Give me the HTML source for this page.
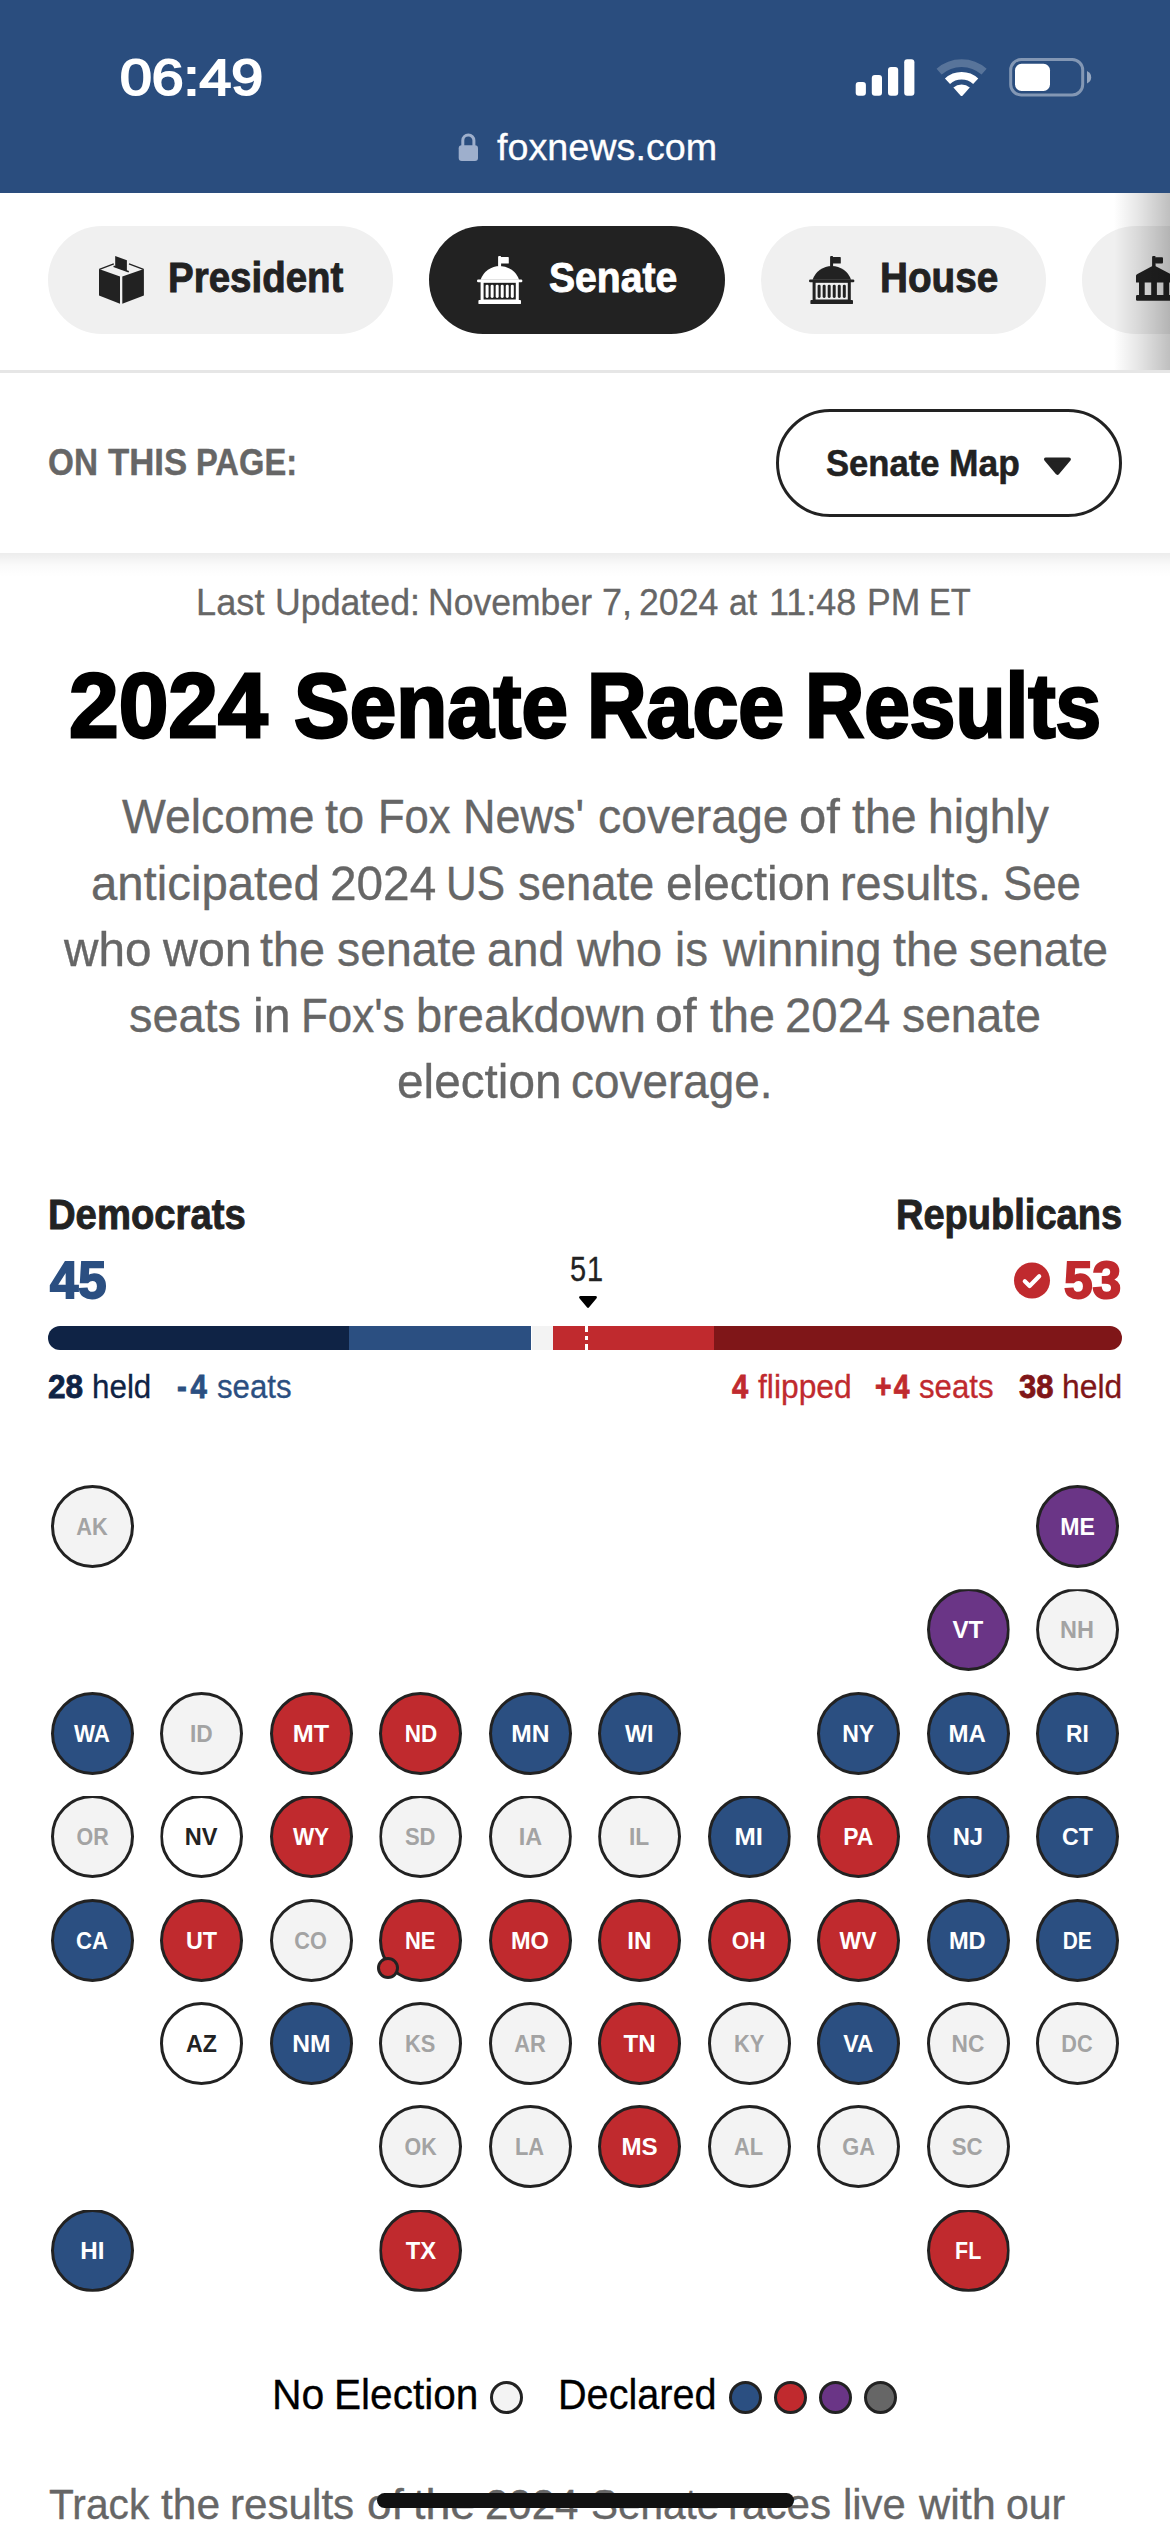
<!DOCTYPE html>
<html lang="en">
<head>
<meta charset="utf-8">
<meta name="viewport" content="width=1170, initial-scale=1">
<title>2024 Senate Race Results</title>
<style>
*{box-sizing:border-box;margin:0;padding:0}
html,body{width:1170px;height:2532px;background:#fff;overflow:hidden}
body{position:relative;font-family:"Liberation Sans",sans-serif;color:#222}
.abs,.t,.st,svg.ic{position:absolute}
.t{white-space:nowrap;line-height:1;transform-origin:0 0;display:block}
.g{position:static;font:inherit;font-size:0;line-height:0}
#hdr{left:0;top:0;width:1170px;height:193px;background:#2a4d7e}
.pill{position:absolute;top:226px;height:108px;border-radius:54px;background:#f0f0f0}
.pill.on{background:#222}
#fade{left:1114px;top:193px;width:56px;height:177px;background:linear-gradient(to right,rgba(0,0,0,0) 0%,rgba(0,0,0,.09) 40%,rgba(0,0,0,.25) 100%)}
#div1{left:0;top:370px;width:1170px;height:3px;background:#e6e6e6}
#dd{left:776px;top:409px;width:346px;height:108px;border:3px solid #222;border-radius:54px;background:#fff}
#shadow{left:0;top:553px;width:1170px;height:24px;background:linear-gradient(to bottom,rgba(0,0,0,.075),rgba(0,0,0,.02) 50%,rgba(0,0,0,0))}
#bar{left:48px;top:1326px;width:1074px;height:24px;border-radius:12px;overflow:hidden;background:#fff}
#bar i{position:absolute;top:0;height:24px}
.st{width:83px;height:83px;border:3px solid #222;border-radius:50%;display:flex;align-items:center;justify-content:center}
.st b{display:block;font-size:24.8px;line-height:1;font-weight:700;transform:scaleX(.93);position:relative;top:1px;left:-.4px}
.dot{position:absolute;width:22px;height:22px;border:3px solid #222;border-radius:50%;background:#c02a2e}
.lg{position:absolute;top:2381px;width:33px;height:33px;border:3px solid #222;border-radius:50%}
#home{left:377px;top:2493px;width:417px;height:15px;border-radius:8px;background:#111}
</style>
</head>
<body>
<div class="abs" id="hdr"></div>

<!-- status icons -->
<svg class="ic" style="left:850px;top:50px" width="250" height="56" viewBox="850 50 250 56">
  <g fill="#fff">
    <rect x="855.7" y="82" width="10.2" height="13.8" rx="3"/>
    <rect x="871.8" y="75" width="10.2" height="20.8" rx="3"/>
    <rect x="888" y="67" width="10.2" height="28.8" rx="3"/>
    <rect x="904.2" y="59.2" width="10.2" height="36.6" rx="3"/>
  </g>
  <g fill="none" stroke="#fff" stroke-width="7.6">
    <path d="M939.1 71.7 A33.7 33.7 0 0 1 984.1 71.7" opacity=".22"/>
    <path d="M947.5 81.2 A21 21 0 0 1 975.7 81.2"/>
  </g>
  <path d="M953.4 87.6 A12.4 12.4 0 0 1 969.8 87.6 L962.7 95.4 Q961.6 96.4 960.5 95.4 Z" fill="#fff"/>
  <rect x="1010.7" y="59.5" width="72" height="35.5" rx="10.5" fill="none" stroke="#fff" stroke-opacity=".42" stroke-width="3"/>
  <rect x="1015" y="63.8" width="35" height="27.2" rx="6.5" fill="#fff"/>
  <path d="M1087 71 Q1091.2 73 1091.2 77.2 Q1091.2 81.4 1087 83.4 Z" fill="#fff" fill-opacity=".5"/>
</svg>

<!-- lock -->
<svg class="ic" style="left:456px;top:130px" width="26" height="34" viewBox="456 130 26 34">
  <rect x="458.7" y="145.3" width="19.3" height="15.6" rx="3" fill="#9eafcc"/>
  <path d="M462.8 147 V140.6 A5.55 5.55 0 0 1 473.9 140.6 V147" fill="none" stroke="#9eafcc" stroke-width="3"/>
</svg>

<!-- nav pills -->
<div class="pill" style="left:48px;width:345px"></div>
<div class="pill on" style="left:429px;width:296px"></div>
<div class="pill" style="left:761px;width:285px"></div>
<div class="pill" style="left:1082px;width:300px"></div>

<!-- ballot box -->
<svg class="ic" style="left:99px;top:256px" width="45" height="48" viewBox="0 0 45 48">
  <g fill="#222">
    <path d="M0 13.1 L21 20.4 V47.8 L0 39.6 Z"/>
    <path d="M23.3 20.4 L44.9 13.1 V39.6 L23.3 47.8 Z"/>
    <path d="M16.2 0.1 L27.9 4.3 V15.3 L16.2 11 Z"/>
  </g>
  <path d="M0.4 13.3 L14.8 7.9 M30 7.9 L44.5 13.3" fill="none" stroke="#222" stroke-width="1.3"/>
  <path d="M14.6 10.2 L29.8 15.8" fill="none" stroke="#222" stroke-width="1.7"/>
</svg>

<!-- capitol (senate, white) -->
<svg class="ic" style="left:477.3px;top:256px" width="45.4" height="48.2" viewBox="0 0 45.4 48.2">
  <g fill="#fff">
    <rect x="21.1" y="0.1" width="3" height="11" rx="1"/>
    <rect x="23.6" y="1" width="8.2" height="6.6" rx=".7"/>
    <path d="M3.6 23.8 A20.3 20.3 0 0 1 42.1 23.8 Z"/>
    <rect x="0" y="23.5" width="45.4" height="2.8" rx="1.35"/>
    <path d="M3.6 26 H41.8 V44.2 H3.6 Z M6.6 26.7 V43.6 H38.8 V26.7 Z" fill-rule="evenodd"/>
    <rect x="8.6" y="28.7" width="3" height="13.3" rx="1.4"/><rect x="13.64" y="28.7" width="3" height="13.3" rx="1.4"/>
    <rect x="18.68" y="28.7" width="3" height="13.3" rx="1.4"/><rect x="23.72" y="28.7" width="3" height="13.3" rx="1.4"/>
    <rect x="28.76" y="28.7" width="3" height="13.3" rx="1.4"/><rect x="33.8" y="28.7" width="3" height="13.3" rx="1.4"/>
    <rect x="1.4" y="44" width="42.6" height="4.1" rx=".9"/>
  </g>
</svg>

<!-- capitol (house, dark) -->
<svg class="ic" style="left:809.3px;top:256px" width="45.4" height="48.2" viewBox="0 0 45.4 48.2">
  <g fill="#222">
    <rect x="21.1" y="0.1" width="3" height="11" rx="1"/>
    <rect x="23.6" y="1" width="8.2" height="6.6" rx=".7"/>
    <path d="M3.6 23.8 A20.3 20.3 0 0 1 42.1 23.8 Z"/>
    <rect x="0" y="23.5" width="45.4" height="2.8" rx="1.35"/>
    <path d="M3.6 26 H41.8 V44.2 H3.6 Z M6.6 26.7 V43.6 H38.8 V26.7 Z" fill-rule="evenodd"/>
    <rect x="8.6" y="28.7" width="3" height="13.3" rx="1.4"/><rect x="13.64" y="28.7" width="3" height="13.3" rx="1.4"/>
    <rect x="18.68" y="28.7" width="3" height="13.3" rx="1.4"/><rect x="23.72" y="28.7" width="3" height="13.3" rx="1.4"/>
    <rect x="28.76" y="28.7" width="3" height="13.3" rx="1.4"/><rect x="33.8" y="28.7" width="3" height="13.3" rx="1.4"/>
    <rect x="1.4" y="44" width="42.6" height="4.1" rx=".9"/>
  </g>
</svg>

<!-- governor building (clipped at right edge) -->
<svg class="ic" style="left:1136px;top:256px" width="34" height="46" viewBox="1136 256 34 46">
  <g fill="#222">
    <rect x="1152.1" y="256" width="3.5" height="11" rx="1"/>
    <rect x="1155" y="257.3" width="8" height="6.1" rx="1"/>
    <path d="M1153.8 265.2 L1171.6 274.7 V282.5 H1136 V275.7 Q1136 274.7 1137 274.2 Z"/>
    <rect x="1139" y="282" width="5.7" height="13.5"/>
    <rect x="1151.2" y="282" width="5.7" height="13.5"/>
    <rect x="1163.4" y="282" width="5.7" height="13.5"/>
    <rect x="1136" y="295" width="40" height="5.8" rx="1.2"/>
  </g>
</svg>

<div class="abs" id="fade"></div>
<div class="abs" id="div1"></div>

<div class="abs" id="dd"></div>
<svg class="ic" style="left:1040px;top:454px" width="36" height="26" viewBox="1040 454 36 26">
  <path d="M1045.9 459.3 H1069 L1057.45 472.9 Z" fill="#222" stroke="#222" stroke-width="3.8" stroke-linejoin="round"/>
</svg>
<div class="abs" id="shadow"></div>

<!-- 51 marker -->
<svg class="ic" style="left:576px;top:1293px" width="24" height="18" viewBox="576 1293 24 18">
  <path d="M580.5 1297.3 H595.5 L588 1306.4 Z" fill="#000" stroke="#000" stroke-width="2.8" stroke-linejoin="round"/>
</svg>

<!-- seats bar -->
<div class="abs" id="bar">
  <i style="left:0;width:301.2px;background:#0f2345"></i>
  <i style="left:301.2px;width:181.8px;background:#2b4f81"></i>
  <i style="left:484.3px;width:20.7px;background:#f3f3f3"></i>
  <i style="left:505px;width:161.1px;background:#c02a2e"></i>
  <i style="left:666.1px;width:410px;background:#7f1618"></i>
  <i style="left:537px;width:3.2px;background:linear-gradient(to bottom,#fff 0,#fff 6px,transparent 6px,transparent 9.7px,#fff 9.7px,#fff 14px,transparent 14px,transparent 18px,#fff 18px,#fff 24px)"></i>
</div>

<!-- winner check -->
<svg class="ic" style="left:1012px;top:1260px" width="40" height="40" viewBox="1012 1260 40 40">
  <circle cx="1032" cy="1280.5" r="18" fill="#c02a2e"/>
  <path d="M1024.8 1281.2 L1029.6 1286 L1039.2 1276.2" fill="none" stroke="#fff" stroke-width="4.2" stroke-linejoin="round" stroke-linecap="round"/>
</svg>

<span class="t" style="left:119.80px;top:54px;font-size:49.6px;font-weight:400;color:#fff;transform:scaleX(1.1520);-webkit-text-stroke:2.0px #fff">06:49</span>
<span class="t" style="left:497.15px;top:130px;font-size:36.8px;font-weight:400;color:#fff;transform:scaleX(1.0254);-webkit-text-stroke:0.3px #fff">foxnews.com</span>
<span class="t" style="left:168.18px;top:257px;font-size:42px;font-weight:700;color:#222222;transform:scaleX(0.9164);-webkit-text-stroke:0.9px #222222">President</span>
<span class="t" style="left:548.59px;top:257px;font-size:42px;font-weight:700;color:#fff;transform:scaleX(0.9312);-webkit-text-stroke:0.9px #fff">Senate</span>
<span class="t" style="left:879.57px;top:257px;font-size:42px;font-weight:700;color:#222222;transform:scaleX(0.9214);-webkit-text-stroke:0.9px #222222">House</span>
<div class="g"><span class="t" style="left:47.96px;top:445px;font-size:36px;font-weight:700;color:#666666;transform:scaleX(0.9241);-webkit-text-stroke:0.4px #666666">ON</span> <span class="t" style="left:107.59px;top:445px;font-size:36px;font-weight:700;color:#666666;transform:scaleX(0.9645);-webkit-text-stroke:0.4px #666666">THIS</span> <span class="t" style="left:196.37px;top:445px;font-size:36px;font-weight:700;color:#666666;transform:scaleX(0.9077);-webkit-text-stroke:0.4px #666666">PAGE:</span></div>
<div class="g"><span class="t" style="left:825.88px;top:446px;font-size:36px;font-weight:700;color:#222222;transform:scaleX(0.9620);-webkit-text-stroke:0.5px #222222">Senate</span> <span class="t" style="left:948.58px;top:446px;font-size:36px;font-weight:700;color:#222222;transform:scaleX(0.9826);-webkit-text-stroke:0.5px #222222">Map</span></div>
<div class="g"><span class="t" style="left:196.01px;top:584px;font-size:37px;font-weight:400;color:#666666;transform:scaleX(0.9786);-webkit-text-stroke:0.3px #666666">Last</span> <span class="t" style="left:275.11px;top:584px;font-size:37px;font-weight:400;color:#666666;transform:scaleX(0.9650);-webkit-text-stroke:0.3px #666666">Updated:</span> <span class="t" style="left:428.36px;top:584px;font-size:37px;font-weight:400;color:#666666;transform:scaleX(0.9609);-webkit-text-stroke:0.3px #666666">November</span> <span class="t" style="left:601.97px;top:584px;font-size:37px;font-weight:400;color:#666666;transform:scaleX(0.9748);-webkit-text-stroke:0.3px #666666">7,</span> <span class="t" style="left:638.78px;top:584px;font-size:37px;font-weight:400;color:#666666;transform:scaleX(0.9638);-webkit-text-stroke:0.3px #666666">2024</span> <span class="t" style="left:729.23px;top:584px;font-size:37px;font-weight:400;color:#666666;transform:scaleX(0.9068);-webkit-text-stroke:0.3px #666666">at</span> <span class="t" style="left:769.20px;top:584px;font-size:37px;font-weight:400;color:#666666;transform:scaleX(0.9704);-webkit-text-stroke:0.3px #666666">11:48</span> <span class="t" style="left:867.36px;top:584px;font-size:37px;font-weight:400;color:#666666;transform:scaleX(0.9604);-webkit-text-stroke:0.3px #666666">PM</span> <span class="t" style="left:928.88px;top:584px;font-size:37px;font-weight:400;color:#666666;transform:scaleX(0.8845);-webkit-text-stroke:0.3px #666666">ET</span></div>
<h1 class="g"><span class="t" style="left:69.21px;top:661px;font-size:90px;font-weight:700;color:#000;transform:scaleX(0.9922);-webkit-text-stroke:2.8px #000">2024</span> <span class="t" style="left:294.04px;top:661px;font-size:90px;font-weight:700;color:#000;transform:scaleX(0.9280);-webkit-text-stroke:2.8px #000">Senate</span> <span class="t" style="left:587.49px;top:661px;font-size:90px;font-weight:700;color:#000;transform:scaleX(0.9162);-webkit-text-stroke:2.8px #000">Race</span> <span class="t" style="left:805.21px;top:661px;font-size:90px;font-weight:700;color:#000;transform:scaleX(0.9108);-webkit-text-stroke:2.8px #000">Results</span></h1>
<p class="g"><span class="t" style="left:121.87px;top:792px;font-size:48.5px;font-weight:400;color:#666666;transform:scaleX(0.9568);-webkit-text-stroke:0.35px #666666">Welcome</span> <span class="t" style="left:325.17px;top:792px;font-size:48.5px;font-weight:400;color:#666666;transform:scaleX(0.9710);-webkit-text-stroke:0.35px #666666">to</span> <span class="t" style="left:378.16px;top:792px;font-size:48.5px;font-weight:400;color:#666666;transform:scaleX(0.8980);-webkit-text-stroke:0.35px #666666">Fox</span> <span class="t" style="left:462.78px;top:792px;font-size:48.5px;font-weight:400;color:#666666;transform:scaleX(0.9282);-webkit-text-stroke:0.35px #666666">News'</span> <span class="t" style="left:598.26px;top:792px;font-size:48.5px;font-weight:400;color:#666666;transform:scaleX(0.9551);-webkit-text-stroke:0.35px #666666">coverage</span> <span class="t" style="left:798.56px;top:792px;font-size:48.5px;font-weight:400;color:#666666;transform:scaleX(1.0096);-webkit-text-stroke:0.35px #666666">of</span> <span class="t" style="left:852.47px;top:792px;font-size:48.5px;font-weight:400;color:#666666;transform:scaleX(0.9590);-webkit-text-stroke:0.35px #666666">the</span> <span class="t" style="left:927.50px;top:792px;font-size:48.5px;font-weight:400;color:#666666;transform:scaleX(0.9550);-webkit-text-stroke:0.35px #666666">highly</span> <span class="t" style="left:90.82px;top:859px;font-size:48.5px;font-weight:400;color:#666666;transform:scaleX(0.9754);-webkit-text-stroke:0.35px #666666">anticipated</span> <span class="t" style="left:330.20px;top:859px;font-size:48.5px;font-weight:400;color:#666666;transform:scaleX(0.9841);-webkit-text-stroke:0.35px #666666">2024</span> <span class="t" style="left:446.43px;top:859px;font-size:48.5px;font-weight:400;color:#666666;transform:scaleX(0.8757);-webkit-text-stroke:0.35px #666666">US</span> <span class="t" style="left:517.73px;top:859px;font-size:48.5px;font-weight:400;color:#666666;transform:scaleX(0.9357);-webkit-text-stroke:0.35px #666666">senate</span> <span class="t" style="left:665.60px;top:859px;font-size:48.5px;font-weight:400;color:#666666;transform:scaleX(0.9868);-webkit-text-stroke:0.35px #666666">election</span> <span class="t" style="left:840.17px;top:859px;font-size:48.5px;font-weight:400;color:#666666;transform:scaleX(0.9667);-webkit-text-stroke:0.35px #666666">results.</span> <span class="t" style="left:1002.65px;top:859px;font-size:48.5px;font-weight:400;color:#666666;transform:scaleX(0.9036);-webkit-text-stroke:0.35px #666666">See</span> <span class="t" style="left:64.36px;top:925px;font-size:48.5px;font-weight:400;color:#666666;transform:scaleX(0.9836);-webkit-text-stroke:0.35px #666666">who</span> <span class="t" style="left:162.57px;top:925px;font-size:48.5px;font-weight:400;color:#666666;transform:scaleX(0.9960);-webkit-text-stroke:0.35px #666666">won</span> <span class="t" style="left:260.37px;top:925px;font-size:48.5px;font-weight:400;color:#666666;transform:scaleX(0.9636);-webkit-text-stroke:0.35px #666666">the</span> <span class="t" style="left:336.91px;top:925px;font-size:48.5px;font-weight:400;color:#666666;transform:scaleX(0.9567);-webkit-text-stroke:0.35px #666666">senate</span> <span class="t" style="left:486.96px;top:925px;font-size:48.5px;font-weight:400;color:#666666;transform:scaleX(0.9529);-webkit-text-stroke:0.35px #666666">and</span> <span class="t" style="left:577.03px;top:925px;font-size:48.5px;font-weight:400;color:#666666;transform:scaleX(0.9576);-webkit-text-stroke:0.35px #666666">who</span> <span class="t" style="left:674.54px;top:925px;font-size:48.5px;font-weight:400;color:#666666;transform:scaleX(0.9414);-webkit-text-stroke:0.35px #666666">is</span> <span class="t" style="left:722.53px;top:925px;font-size:48.5px;font-weight:400;color:#666666;transform:scaleX(0.9635);-webkit-text-stroke:0.35px #666666">winning</span> <span class="t" style="left:892.87px;top:925px;font-size:48.5px;font-weight:400;color:#666666;transform:scaleX(0.9681);-webkit-text-stroke:0.35px #666666">the</span> <span class="t" style="left:968.51px;top:925px;font-size:48.5px;font-weight:400;color:#666666;transform:scaleX(0.9546);-webkit-text-stroke:0.35px #666666">senate</span> <span class="t" style="left:129.20px;top:991px;font-size:48.5px;font-weight:400;color:#666666;transform:scaleX(0.9665);-webkit-text-stroke:0.35px #666666">seats</span> <span class="t" style="left:252.59px;top:991px;font-size:48.5px;font-weight:400;color:#666666;transform:scaleX(0.9961);-webkit-text-stroke:0.35px #666666">in</span> <span class="t" style="left:301.24px;top:991px;font-size:48.5px;font-weight:400;color:#666666;transform:scaleX(0.9062);-webkit-text-stroke:0.35px #666666">Fox's</span> <span class="t" style="left:415.76px;top:991px;font-size:48.5px;font-weight:400;color:#666666;transform:scaleX(0.9683);-webkit-text-stroke:0.35px #666666">breakdown</span> <span class="t" style="left:654.82px;top:991px;font-size:48.5px;font-weight:400;color:#666666;transform:scaleX(1.0299);-webkit-text-stroke:0.35px #666666">of</span> <span class="t" style="left:710.17px;top:991px;font-size:48.5px;font-weight:400;color:#666666;transform:scaleX(0.9620);-webkit-text-stroke:0.35px #666666">the</span> <span class="t" style="left:785.42px;top:991px;font-size:48.5px;font-weight:400;color:#666666;transform:scaleX(0.9765);-webkit-text-stroke:0.35px #666666">2024</span> <span class="t" style="left:902.01px;top:991px;font-size:48.5px;font-weight:400;color:#666666;transform:scaleX(0.9539);-webkit-text-stroke:0.35px #666666">senate</span> <span class="t" style="left:397.20px;top:1057px;font-size:48.5px;font-weight:400;color:#666666;transform:scaleX(0.9843);-webkit-text-stroke:0.35px #666666">election</span> <span class="t" style="left:570.97px;top:1057px;font-size:48.5px;font-weight:400;color:#666666;transform:scaleX(0.9458);-webkit-text-stroke:0.35px #666666">coverage.</span></p>
<span class="t" style="left:48.09px;top:1194px;font-size:42px;font-weight:700;color:#222222;transform:scaleX(0.9104);-webkit-text-stroke:0.9px #222222">Democrats</span>
<span class="t" style="left:896.00px;top:1194px;font-size:42px;font-weight:700;color:#222222;transform:scaleX(0.9055);-webkit-text-stroke:0.9px #222222">Republicans</span>
<span class="t" style="left:50.28px;top:1254px;font-size:52px;font-weight:700;color:#2b4f81;transform:scaleX(0.9759);-webkit-text-stroke:2.0px #2b4f81">45</span>
<span class="t" style="left:1064.30px;top:1254px;font-size:52px;font-weight:700;color:#c02a2e;transform:scaleX(0.9893);-webkit-text-stroke:2.0px #c02a2e">53</span>
<span class="t" style="left:570.21px;top:1252px;font-size:35.6px;font-weight:400;color:#222222;transform:scaleX(0.8142);letter-spacing:1.09px;-webkit-text-stroke:0.3px #222222">51</span>
<span class="t" style="left:48.32px;top:1371px;font-size:32.4px;font-weight:700;color:#0f2345;transform:scaleX(0.9745);-webkit-text-stroke:0.8px #0f2345">28</span>
<span class="t" style="left:92.24px;top:1370px;font-size:33px;font-weight:400;color:#0f2345;transform:scaleX(0.9505);-webkit-text-stroke:0.3px #0f2345">held</span>
<span class="t" style="left:176.75px;top:1371px;font-size:32.4px;font-weight:700;color:#2b4f81;transform:scaleX(0.9096);letter-spacing:4.18px;-webkit-text-stroke:0.8px #2b4f81">-4</span>
<span class="t" style="left:216.84px;top:1370px;font-size:33px;font-weight:400;color:#2b4f81;transform:scaleX(0.9457);-webkit-text-stroke:0.3px #2b4f81">seats</span>
<span class="t" style="left:731.56px;top:1371px;font-size:32.4px;font-weight:700;color:#c02a2e;transform:scaleX(0.8989);-webkit-text-stroke:0.8px #c02a2e">4</span>
<span class="t" style="left:757.94px;top:1370px;font-size:33px;font-weight:400;color:#c02a2e;transform:scaleX(0.9637);-webkit-text-stroke:0.3px #c02a2e">flipped</span>
<span class="t" style="left:874.88px;top:1371px;font-size:32.4px;font-weight:700;color:#c02a2e;transform:scaleX(0.8723);letter-spacing:2.72px;-webkit-text-stroke:0.8px #c02a2e">+4</span>
<span class="t" style="left:919.14px;top:1370px;font-size:33px;font-weight:400;color:#c02a2e;transform:scaleX(0.9444);-webkit-text-stroke:0.3px #c02a2e">seats</span>
<span class="t" style="left:1019.38px;top:1371px;font-size:32.4px;font-weight:700;color:#7f1618;transform:scaleX(0.9562);-webkit-text-stroke:0.8px #7f1618">38</span>
<span class="t" style="left:1062.22px;top:1370px;font-size:33px;font-weight:400;color:#7f1618;transform:scaleX(0.9640);-webkit-text-stroke:0.3px #7f1618">held</span>
<div class="g"><span class="t" style="left:271.79px;top:2373px;font-size:43px;font-weight:400;color:#000;transform:scaleX(0.9522);-webkit-text-stroke:0.3px #000">No</span> <span class="t" style="left:333.71px;top:2373px;font-size:43px;font-weight:400;color:#000;transform:scaleX(0.9443);-webkit-text-stroke:0.3px #000">Election</span></div>
<span class="t" style="left:558.47px;top:2373px;font-size:43px;font-weight:400;color:#000;transform:scaleX(0.9214);-webkit-text-stroke:0.3px #000">Declared</span>
<p class="g"><span class="t" style="left:49.07px;top:2484px;font-size:42.5px;font-weight:400;color:#666666;transform:scaleX(0.9577);-webkit-text-stroke:0.35px #666666">Track</span> <span class="t" style="left:161.48px;top:2484px;font-size:42.5px;font-weight:400;color:#666666;transform:scaleX(1.0001);-webkit-text-stroke:0.35px #666666">the</span> <span class="t" style="left:230.19px;top:2484px;font-size:42.5px;font-weight:400;color:#666666;transform:scaleX(0.9920);-webkit-text-stroke:0.35px #666666">results</span> <span class="t" style="left:367.14px;top:2484px;font-size:42.5px;font-weight:400;color:#666666;transform:scaleX(1.0404);-webkit-text-stroke:0.35px #666666">of</span> <span class="t" style="left:412.58px;top:2484px;font-size:42.5px;font-weight:400;color:#666666;transform:scaleX(1.0537);-webkit-text-stroke:0.35px #666666">the</span> <span class="t" style="left:485.40px;top:2484px;font-size:42.5px;font-weight:400;color:#666666;transform:scaleX(0.9885);-webkit-text-stroke:0.35px #666666">2024</span> <span class="t" style="left:590.71px;top:2484px;font-size:42.5px;font-weight:400;color:#666666;transform:scaleX(0.9531);-webkit-text-stroke:0.35px #666666">Senate</span> <span class="t" style="left:727.79px;top:2484px;font-size:42.5px;font-weight:400;color:#666666;transform:scaleX(0.9908);-webkit-text-stroke:0.35px #666666">races</span> <span class="t" style="left:842.50px;top:2484px;font-size:42.5px;font-weight:400;color:#666666;transform:scaleX(0.9837);-webkit-text-stroke:0.35px #666666">live</span> <span class="t" style="left:918.50px;top:2484px;font-size:42.5px;font-weight:400;color:#666666;transform:scaleX(1.0176);-webkit-text-stroke:0.35px #666666">with</span> <span class="t" style="left:1006.21px;top:2484px;font-size:42.5px;font-weight:400;color:#666666;transform:scaleX(0.9633);-webkit-text-stroke:0.35px #666666">our</span></p>

<div class="st" style="left:51.0px;top:1484.9px;background:#f3f3f3;color:#a3a3a3"><b style="transform:scaleX(0.878)">AK</b></div>
<div class="st" style="left:1036.1px;top:1484.9px;background:#6a3586;color:#fff"><b style="transform:scaleX(0.932)">ME</b></div>
<div class="st" style="left:926.6px;top:1588.3px;background:#6a3586;color:#fff;clip-path:inset(.9px 0 0 0)"><b style="transform:scaleX(0.975)">VT</b></div>
<div class="st" style="left:1036.1px;top:1588.3px;background:#f3f3f3;color:#a3a3a3;clip-path:inset(.9px 0 0 0)"><b style="transform:scaleX(0.947)">NH</b></div>
<div class="st" style="left:51.0px;top:1691.7px;background:#2b4f81;color:#fff"><b style="transform:scaleX(0.903)">WA</b></div>
<div class="st" style="left:160.4px;top:1691.7px;background:#f3f3f3;color:#a3a3a3"><b style="transform:scaleX(0.917)">ID</b></div>
<div class="st" style="left:269.9px;top:1691.7px;background:#c02a2e;color:#fff"><b style="transform:scaleX(1.015)">MT</b></div>
<div class="st" style="left:379.4px;top:1691.7px;background:#c02a2e;color:#fff"><b style="transform:scaleX(0.908)">ND</b></div>
<div class="st" style="left:488.8px;top:1691.7px;background:#2b4f81;color:#fff"><b style="transform:scaleX(0.990)">MN</b></div>
<div class="st" style="left:598.2px;top:1691.7px;background:#2b4f81;color:#fff"><b style="transform:scaleX(0.937)">WI</b></div>
<div class="st" style="left:817.1px;top:1691.7px;background:#2b4f81;color:#fff"><b style="transform:scaleX(0.929)">NY</b></div>
<div class="st" style="left:926.6px;top:1691.7px;background:#2b4f81;color:#fff"><b style="transform:scaleX(0.968)">MA</b></div>
<div class="st" style="left:1036.1px;top:1691.7px;background:#2b4f81;color:#fff"><b style="transform:scaleX(0.913)">RI</b></div>
<div class="st" style="left:51.0px;top:1795.1px;background:#f3f3f3;color:#a3a3a3;clip-path:inset(.9px 0 0 0)"><b style="transform:scaleX(0.865)">OR</b></div>
<div class="st" style="left:160.4px;top:1795.1px;background:#ffffff;color:#222222;clip-path:inset(.9px 0 0 0)"><b style="transform:scaleX(0.951)">NV</b></div>
<div class="st" style="left:269.9px;top:1795.1px;background:#c02a2e;color:#fff;clip-path:inset(.9px 0 0 0)"><b style="transform:scaleX(0.906)">WY</b></div>
<div class="st" style="left:379.4px;top:1795.1px;background:#f3f3f3;color:#a3a3a3;clip-path:inset(.9px 0 0 0)"><b style="transform:scaleX(0.888)">SD</b></div>
<div class="st" style="left:488.8px;top:1795.1px;background:#f3f3f3;color:#a3a3a3;clip-path:inset(.9px 0 0 0)"><b style="transform:scaleX(0.941)">IA</b></div>
<div class="st" style="left:598.2px;top:1795.1px;background:#f3f3f3;color:#a3a3a3;clip-path:inset(.9px 0 0 0)"><b style="transform:scaleX(0.917)">IL</b></div>
<div class="st" style="left:707.7px;top:1795.1px;background:#2b4f81;color:#fff;clip-path:inset(.9px 0 0 0)"><b style="transform:scaleX(1.031)">MI</b></div>
<div class="st" style="left:817.1px;top:1795.1px;background:#c02a2e;color:#fff;clip-path:inset(.9px 0 0 0)"><b style="transform:scaleX(0.922)">PA</b></div>
<div class="st" style="left:926.6px;top:1795.1px;background:#2b4f81;color:#fff;clip-path:inset(.9px 0 0 0)"><b style="transform:scaleX(0.957)">NJ</b></div>
<div class="st" style="left:1036.1px;top:1795.1px;background:#2b4f81;color:#fff;clip-path:inset(.9px 0 0 0)"><b style="transform:scaleX(0.936)">CT</b></div>
<div class="st" style="left:51.0px;top:1898.5px;background:#2b4f81;color:#fff"><b style="transform:scaleX(0.892)">CA</b></div>
<div class="st" style="left:160.4px;top:1898.5px;background:#c02a2e;color:#fff"><b style="transform:scaleX(0.943)">UT</b></div>
<div class="st" style="left:269.9px;top:1898.5px;background:#f3f3f3;color:#a3a3a3"><b style="transform:scaleX(0.875)">CO</b></div>
<div class="st" style="left:379.4px;top:1898.5px;background:#c02a2e;color:#fff"><b style="transform:scaleX(0.885)">NE</b><i class="dot" style="left:-5.6px;top:55.1px"></i></div>
<div class="st" style="left:488.8px;top:1898.5px;background:#c02a2e;color:#fff"><b style="transform:scaleX(0.950)">MO</b></div>
<div class="st" style="left:598.2px;top:1898.5px;background:#c02a2e;color:#fff"><b style="transform:scaleX(0.975)">IN</b></div>
<div class="st" style="left:707.7px;top:1898.5px;background:#c02a2e;color:#fff"><b style="transform:scaleX(0.906)">OH</b></div>
<div class="st" style="left:817.1px;top:1898.5px;background:#c02a2e;color:#fff"><b style="transform:scaleX(0.925)">WV</b></div>
<div class="st" style="left:926.6px;top:1898.5px;background:#2b4f81;color:#fff"><b style="transform:scaleX(0.953)">MD</b></div>
<div class="st" style="left:1036.1px;top:1898.5px;background:#2b4f81;color:#fff"><b style="transform:scaleX(0.842)">DE</b></div>
<div class="st" style="left:160.4px;top:2001.9px;background:#ffffff;color:#222222"><b style="transform:scaleX(0.933)">AZ</b></div>
<div class="st" style="left:269.9px;top:2001.9px;background:#2b4f81;color:#fff"><b style="transform:scaleX(0.990)">NM</b></div>
<div class="st" style="left:379.4px;top:2001.9px;background:#f3f3f3;color:#a3a3a3"><b style="transform:scaleX(0.881)">KS</b></div>
<div class="st" style="left:488.8px;top:2001.9px;background:#f3f3f3;color:#a3a3a3"><b style="transform:scaleX(0.881)">AR</b></div>
<div class="st" style="left:598.2px;top:2001.9px;background:#c02a2e;color:#fff"><b style="transform:scaleX(0.971)">TN</b></div>
<div class="st" style="left:707.7px;top:2001.9px;background:#f3f3f3;color:#a3a3a3"><b style="transform:scaleX(0.880)">KY</b></div>
<div class="st" style="left:817.1px;top:2001.9px;background:#2b4f81;color:#fff"><b style="transform:scaleX(0.926)">VA</b></div>
<div class="st" style="left:926.6px;top:2001.9px;background:#f3f3f3;color:#a3a3a3"><b style="transform:scaleX(0.916)">NC</b></div>
<div class="st" style="left:1036.1px;top:2001.9px;background:#f3f3f3;color:#a3a3a3"><b style="transform:scaleX(0.875)">DC</b></div>
<div class="st" style="left:379.4px;top:2105.3px;background:#f3f3f3;color:#a3a3a3"><b style="transform:scaleX(0.862)">OK</b></div>
<div class="st" style="left:488.8px;top:2105.3px;background:#f3f3f3;color:#a3a3a3"><b style="transform:scaleX(0.882)">LA</b></div>
<div class="st" style="left:598.2px;top:2105.3px;background:#c02a2e;color:#fff"><b style="transform:scaleX(0.974)">MS</b></div>
<div class="st" style="left:707.7px;top:2105.3px;background:#f3f3f3;color:#a3a3a3"><b style="transform:scaleX(0.882)">AL</b></div>
<div class="st" style="left:817.1px;top:2105.3px;background:#f3f3f3;color:#a3a3a3"><b style="transform:scaleX(0.879)">GA</b></div>
<div class="st" style="left:926.6px;top:2105.3px;background:#f3f3f3;color:#a3a3a3"><b style="transform:scaleX(0.896)">SC</b></div>
<div class="st" style="left:51.0px;top:2208.7px;background:#2b4f81;color:#fff;clip-path:inset(1.2px 0 0 0)"><b style="transform:scaleX(0.974)">HI</b></div>
<div class="st" style="left:379.4px;top:2208.7px;background:#c02a2e;color:#fff;clip-path:inset(1.2px 0 0 0)"><b style="transform:scaleX(0.960)">TX</b></div>
<div class="st" style="left:926.6px;top:2208.7px;background:#c02a2e;color:#fff;clip-path:inset(1.2px 0 0 0)"><b style="transform:scaleX(0.863)">FL</b></div>

<!-- legend -->
<i class="lg" style="left:490.2px;background:#f3f3f3"></i>
<i class="lg" style="left:729.2px;background:#2b4f81"></i>
<i class="lg" style="left:774.2px;background:#c02a2e"></i>
<i class="lg" style="left:819.1px;background:#6a3586"></i>
<i class="lg" style="left:864px;background:#666"></i>

<div class="abs" id="home"></div>
</body>
</html>
